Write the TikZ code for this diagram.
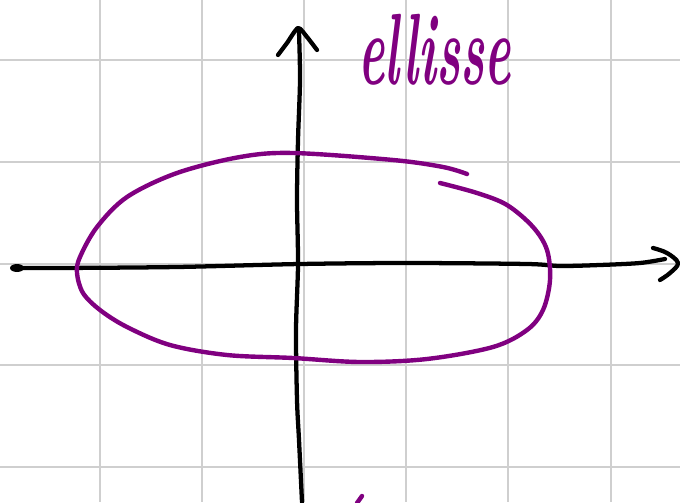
\documentclass[tikz,border=0pt]{standalone}
\begin{document}
\begin{tikzpicture}[x=0.75pt,y=-0.75pt,
  gridline/.style={line width=2.2pt,draw=black!19},
  axisline/.style={line width=3.2pt,draw=black,line cap=round,line join=round},
  penline/.style={line width=3.3pt,draw=ellcol,line cap=round,line join=round},
  lbl/.style={text=ellcol,inner sep=0pt,font=\fontsize{76}{76}\selectfont\bfseries\itshape}]
\definecolor{ellcol}{HTML}{800080}
\useasboundingbox (0,0) rectangle (680,502);
\fill[white] (0,0) rectangle (680,502);
% grid
\foreach \gx in {100,202,304,406,508,611}{\draw[gridline] (\gx,0) -- (\gx,502);}
\foreach \gy in {60,162,264,365,467}{\draw[gridline] (0,\gy) -- (680,\gy);}
% axes
\coordinate (xl) at (17,268);
\coordinate (xr) at (665,259);
\coordinate (yb) at (302,502);
\coordinate (yt) at (299,30);
\draw[axisline] plot[smooth,tension=0.5] coordinates {(15,268) (60,268) (177,267) (300,264) (407,263) (527,264) (560,266) (600,265) (640,263) (665,259)};
\fill (xl) ellipse [x radius=7, y radius=4];
\draw[axisline] plot[smooth,tension=0.6] coordinates {(653,248) (667,253) (678,263) (670,273) (660,280)};
\draw[axisline] plot[smooth,tension=0.5] coordinates {(302,502) (299,440) (297,400) (296,330) (298,264) (297,200) (298,140) (300,80) (299,32)};
\draw[axisline] plot[smooth,tension=0.4] coordinates {(278,55) (287,43) (298,28) (307,37) (317,50)};
% ellipse
\draw[penline] plot[smooth,tension=0.55] coordinates {(440,183) (477,193) (507,205) (533,227) (547,250) (550,280) (543,310) (527,330) (493,347) (427,359) (360,362) (293,358) (227,355) (170,345) (127,327) (100,310) (83,293) (77,273) (80,257) (97,227) (127,197) (177,173) (240,157) (293,153) (393,160) (443,167) (467,174)};
\draw[penline] (362,496) -- (357,503);
% label
\node[lbl,anchor=base west,xscale=0.49] (lab) at (358,85) {ellisse};
\end{tikzpicture}
\end{document}
